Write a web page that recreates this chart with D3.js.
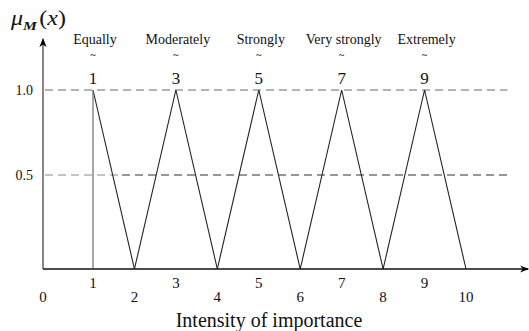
<!DOCTYPE html>
<html><head><meta charset="utf-8">
<script src="https://cdn.jsdelivr.net/npm/d3@7"></script>
<style>
html,body{margin:0;padding:0;background:#fff;}
svg{display:block;font-family:"Liberation Serif","Times New Roman",serif;}
</style></head>
<body>
<svg id="c" width="529" height="331"></svg>
<script>
// ---- data ----
const peaks = [1, 3, 5, 7, 9];
const lowerFeet = [1, 2, 4, 6, 8];
const upperFeet = [2, 4, 6, 8, 10];
const verbalLabels = ["Equally", "Moderately", "Strongly", "Very strongly", "Extremely"];
const oddTicks = [1, 3, 5, 7, 9];
const evenTicks = [0, 2, 4, 6, 8, 10];
const refLevels = [1.0, 0.5];
const yTickLabels = ["1.0", "0.5"];

const svg = d3.select("#c");
const x = d3.scaleLinear().domain([0, 1, 10]).range([43, 93, 466]);
const y = d3.scaleLinear().domain([0, 0.5, 1]).range([269, 175, 90]);

// arrow markers
const defs = svg.append("defs");
defs.append("marker").attr("id","arr").attr("viewBox","0 0 10 10")
  .attr("refX",9).attr("refY",5).attr("markerWidth",9).attr("markerHeight",9)
  .attr("markerUnits","userSpaceOnUse").attr("orient","auto")
  .append("path").attr("d","M0,1 L10,5 L0,9 L3,5 Z").attr("fill","#000");

// reference dashed lines
svg.append("line").attr("x1", x(0)+2).attr("x2", x(11))
  .attr("y1", y(1)).attr("y2", y(1))
  .attr("stroke","#9a9a9a").attr("stroke-width",1.3).attr("stroke-dasharray","8,5");
svg.append("line").attr("x1", x(0)+2).attr("x2", x(1.7))
  .attr("y1", y(0.5)).attr("y2", y(0.5))
  .attr("stroke","#8a8a8a").attr("stroke-width",1.2).attr("stroke-dasharray","8,5");
svg.append("line").attr("x1", x(1.7)).attr("x2", x(11))
  .attr("y1", y(0.5)).attr("y2", y(0.5))
  .attr("stroke","#333").attr("stroke-width",1.1).attr("stroke-dasharray","8,5");

// y tick labels
svg.selectAll(".yl").data(refLevels).enter().append("text")
  .attr("x", x(0) - 10).attr("y", d => y(d) + 5)
  .attr("text-anchor","end").attr("font-size", 14).attr("fill","#111")
  .text((d,i) => yTickLabels[i]);

// triangles
const line = d3.line().x(d => x(d[0])).y(d => y(d[1]));
const tri = peaks.map((p,i) => [[lowerFeet[i], 0], [p, 1], [upperFeet[i], 0]]);
svg.selectAll(".tri").data(tri).enter().append("path")
  .attr("d", (d,i) => i === 0 ? line(d.slice(1)) : line(d))
  .attr("fill","none").attr("stroke","#222").attr("stroke-width",1.1);
// vertical line of first (left-shouldered) number
svg.append("line").attr("x1", x(peaks[0])).attr("x2", x(peaks[0]))
  .attr("y1", y(0)).attr("y2", y(1))
  .attr("stroke","#777").attr("stroke-width",1.3);

// axes
svg.append("line").attr("x1", x(0)).attr("x2", x(0))
  .attr("y1", y(0)).attr("y2", y(1.3))
  .attr("stroke","#555").attr("stroke-width",1.4).attr("marker-end","url(#arr)");
svg.append("line").attr("x1", x(0)).attr("x2", x(11.5))
  .attr("y1", y(0)).attr("y2", y(0))
  .attr("stroke","#111").attr("stroke-width",1.5).attr("marker-end","url(#arr)");

// x tick labels
svg.selectAll(".ot").data(oddTicks).enter().append("text")
  .attr("x", d => x(d)).attr("y", 288).attr("text-anchor","middle")
  .attr("font-size", 15).attr("fill","#111").text(d => d);
svg.selectAll(".et").data(evenTicks).enter().append("text")
  .attr("x", d => x(d)).attr("y", 302).attr("text-anchor","middle")
  .attr("font-size", 15).attr("fill","#111").text(d => d);

// fuzzy number labels
svg.selectAll(".fn").data(peaks).enter().append("text")
  .attr("x", d => x(d)).attr("y", 84).attr("text-anchor","middle")
  .attr("font-size", 17).attr("fill","#111").text(d => d);
svg.selectAll(".tl").data(peaks).enter().append("text")
  .attr("x", d => x(d)).attr("y", 58).attr("text-anchor","middle")
  .attr("font-size", 10).attr("font-weight","bold").attr("fill","#333").text("~");

// verbal labels
svg.selectAll(".vl").data(verbalLabels).enter().append("text")
  .attr("x", (d,i) => x(peaks[i]) + 2).attr("y", 44).attr("text-anchor","middle")
  .attr("font-size", 14).attr("fill","#111").text(d => d);

// axis titles
const mu = svg.append("text").attr("transform", "translate(11,25) scale(1.2,1)").attr("fill","#111");
mu.append("tspan").attr("font-size", 20).attr("font-style","italic").text("μ");
mu.append("tspan").attr("font-size", 13).attr("font-style","italic").attr("font-weight","bold")
  .attr("dy", 5).text("M");
mu.append("tspan").attr("font-size", 20).attr("dy", -5).attr("dx", 2).text("(");
mu.append("tspan").attr("font-size", 20).attr("font-style","italic").text("x");
mu.append("tspan").attr("font-size", 20).text(")");

svg.append("text").attr("x", 269).attr("y", 327).attr("text-anchor","middle")
  .attr("font-size", 20).attr("fill","#111").text("Intensity of importance");
</script>
</body></html>
